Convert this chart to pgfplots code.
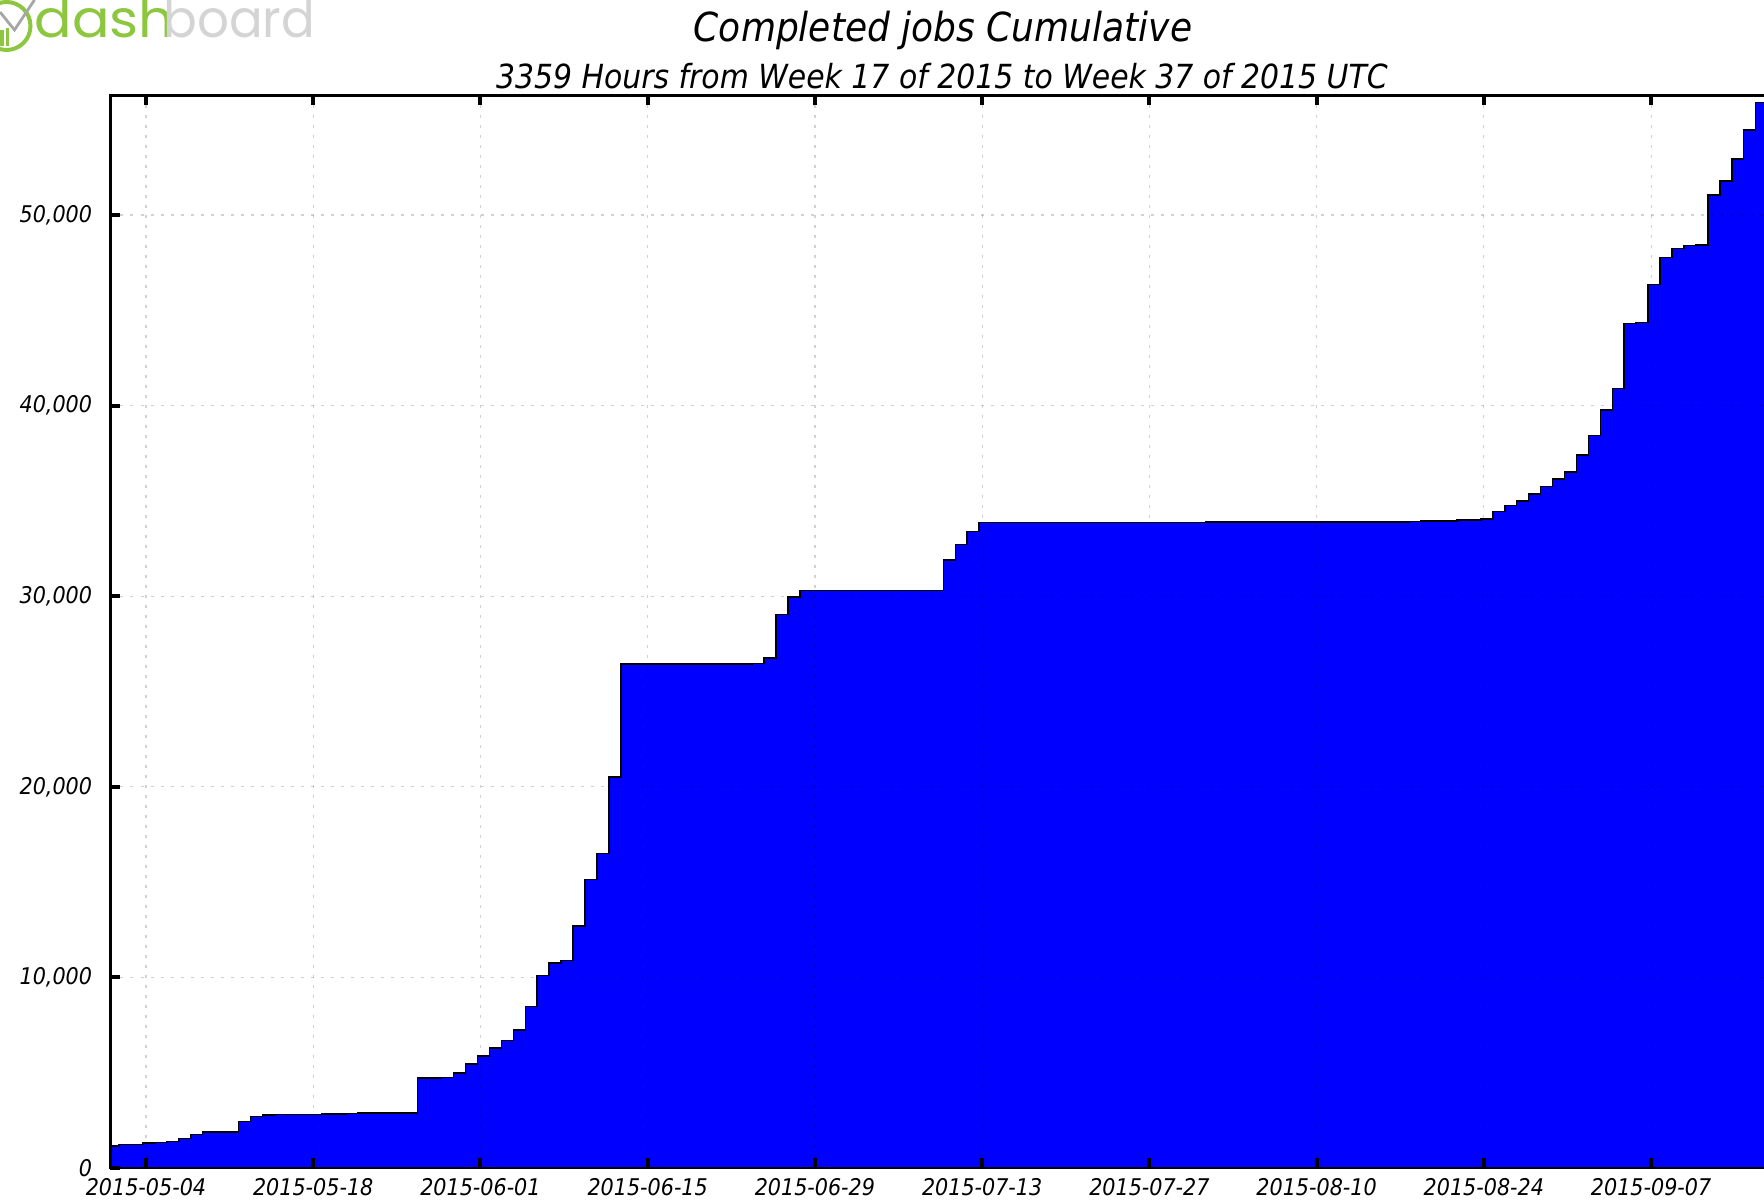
\documentclass[border=0pt]{standalone}
\usepackage{pgfplots}
\pgfplotsset{compat=1.18}
\usepackage{graphicx}
\usepackage{fontspec}
\setmainfont{DejaVu Sans}[FakeStretch=0.9]
\newfontfamily\logofont{Poppins}
\definecolor{dashgreen}{RGB}{141,198,63}
\definecolor{dashgray}{RGB}{212,212,212}
\begin{document}
\begin{tikzpicture}
\useasboundingbox (-55.25pt,-17pt) rectangle (826.75pt,584pt);
\clip (-55.25pt,-17pt) rectangle (826.75pt,584pt);
\begin{axis}[
 at={(0pt,0pt)}, anchor=south west,
 scale only axis, width=836pt, height=536.25pt,
 xmin=-2.97, xmax=137, ymin=0, ymax=56275,
 xtick={0,14,...,126},
 xticklabels={2015-05-04,2015-05-18,2015-06-01,2015-06-15,2015-06-29,2015-07-13,2015-07-27,2015-08-10,2015-08-24,2015-09-07},
 ytick={0,10000,...,50000},
 scaled y ticks=false,
 /pgf/number format/assume math mode=true,
 /pgf/number format/1000 sep={,},
 tick label style={font=\fontsize{11.5}{13}\selectfont\itshape},
 xticklabel style={anchor=north, inner sep=0pt, yshift=-5pt},
 yticklabel style={anchor=east, inner sep=0pt, xshift=-9pt},
 tick align=inside,
 major tick length=5pt,
 every tick/.style={black, line width=2pt},
 axis line style={line width=1.3pt},
 grid=major,
 major grid style={black, opacity=0.18, line width=0.6pt, dash pattern=on 1.5pt off 3.5pt},
 axis on top,
]
\addplot[const plot, fill=blue, draw=black, line width=0.75pt] coordinates {
(-2.97,1150) (-2.25,1220) (-1.25,1240) (-0.25,1300) (0.75,1330) (1.75,1400)
(2.75,1560) (3.75,1770) (4.75,1890) (5.75,1895) (6.75,1900) (7.75,2430)
(8.75,2690) (9.75,2790) (10.75,2795) (11.75,2800) (12.75,2805) (13.75,2810)
(14.75,2830) (15.75,2840) (16.75,2870) (17.75,2875) (18.75,2880) (19.75,2885)
(20.75,2890) (21.75,2895) (22.75,4710) (23.75,4720) (24.75,4750) (25.75,4990)
(26.75,5446) (27.75,5885) (28.75,6288) (29.75,6680) (30.75,7252) (31.75,8478)
(32.75,10110) (33.75,10750) (34.75,10900) (35.75,12700) (36.75,15140)
(37.75,16500) (38.75,20520) (39.75,26435) (45.75,26440) (50.75,26470)
(51.75,26750) (52.75,29050) (53.75,29960) (54.75,30300) (66.75,31900)
(67.75,32725) (68.75,33390) (69.75,33880) (88.75,33900) (105.75,33930)
(106.75,33960) (109.75,33990) (111.75,34060) (112.75,34440) (113.75,34760)
(114.75,35000) (115.75,35370) (116.75,35770) (117.75,36160) (118.75,36510)
(119.75,37410) (120.75,38430) (121.75,39770) (122.75,40910) (123.75,44320)
(124.75,44350) (125.75,46350) (126.75,47780) (127.75,48250) (128.75,48400)
(129.75,48430) (130.75,51050) (131.75,51800) (132.75,52940) (133.75,54470)
(134.75,55910) (137,55910)
} \closedcycle;
\end{axis}
\node[anchor=base, font=\fontsize{20}{24}\selectfont\itshape] at (416.25pt,563.2pt) {Completed jobs Cumulative};
\node[anchor=base, font=\fontsize{16.6}{20}\selectfont\itshape] at (415.75pt,539.55pt) {3359 Hours from Week 17 of 2015 to Week 37 of 2015 UTC};
% logo
\draw[dashgreen, line width=2pt] (-52pt,571pt) circle (12pt);
\draw[gray!70, line width=1.4pt] (-55.25pt,578pt) -- (-48pt,569pt) -- (-38pt,584pt);
\fill[dashgreen] (-55pt,561pt) rectangle (-53.3pt,569pt);
\fill[dashgreen] (-52.3pt,561pt) rectangle (-50.6pt,570pt);
\node[anchor=base west, inner sep=0pt, text=dashgreen, font=\logofont\fontsize{26}{30}\selectfont] at (-38.25pt,565pt) {\scalebox{1.07}[1]{dash}};
\node[anchor=base west, inner sep=0pt, text=dashgray, font=\logofont\fontsize{26}{30}\selectfont] at (26.25pt,565pt) {\scalebox{0.96}[1]{board}};
\end{tikzpicture}
\end{document}
